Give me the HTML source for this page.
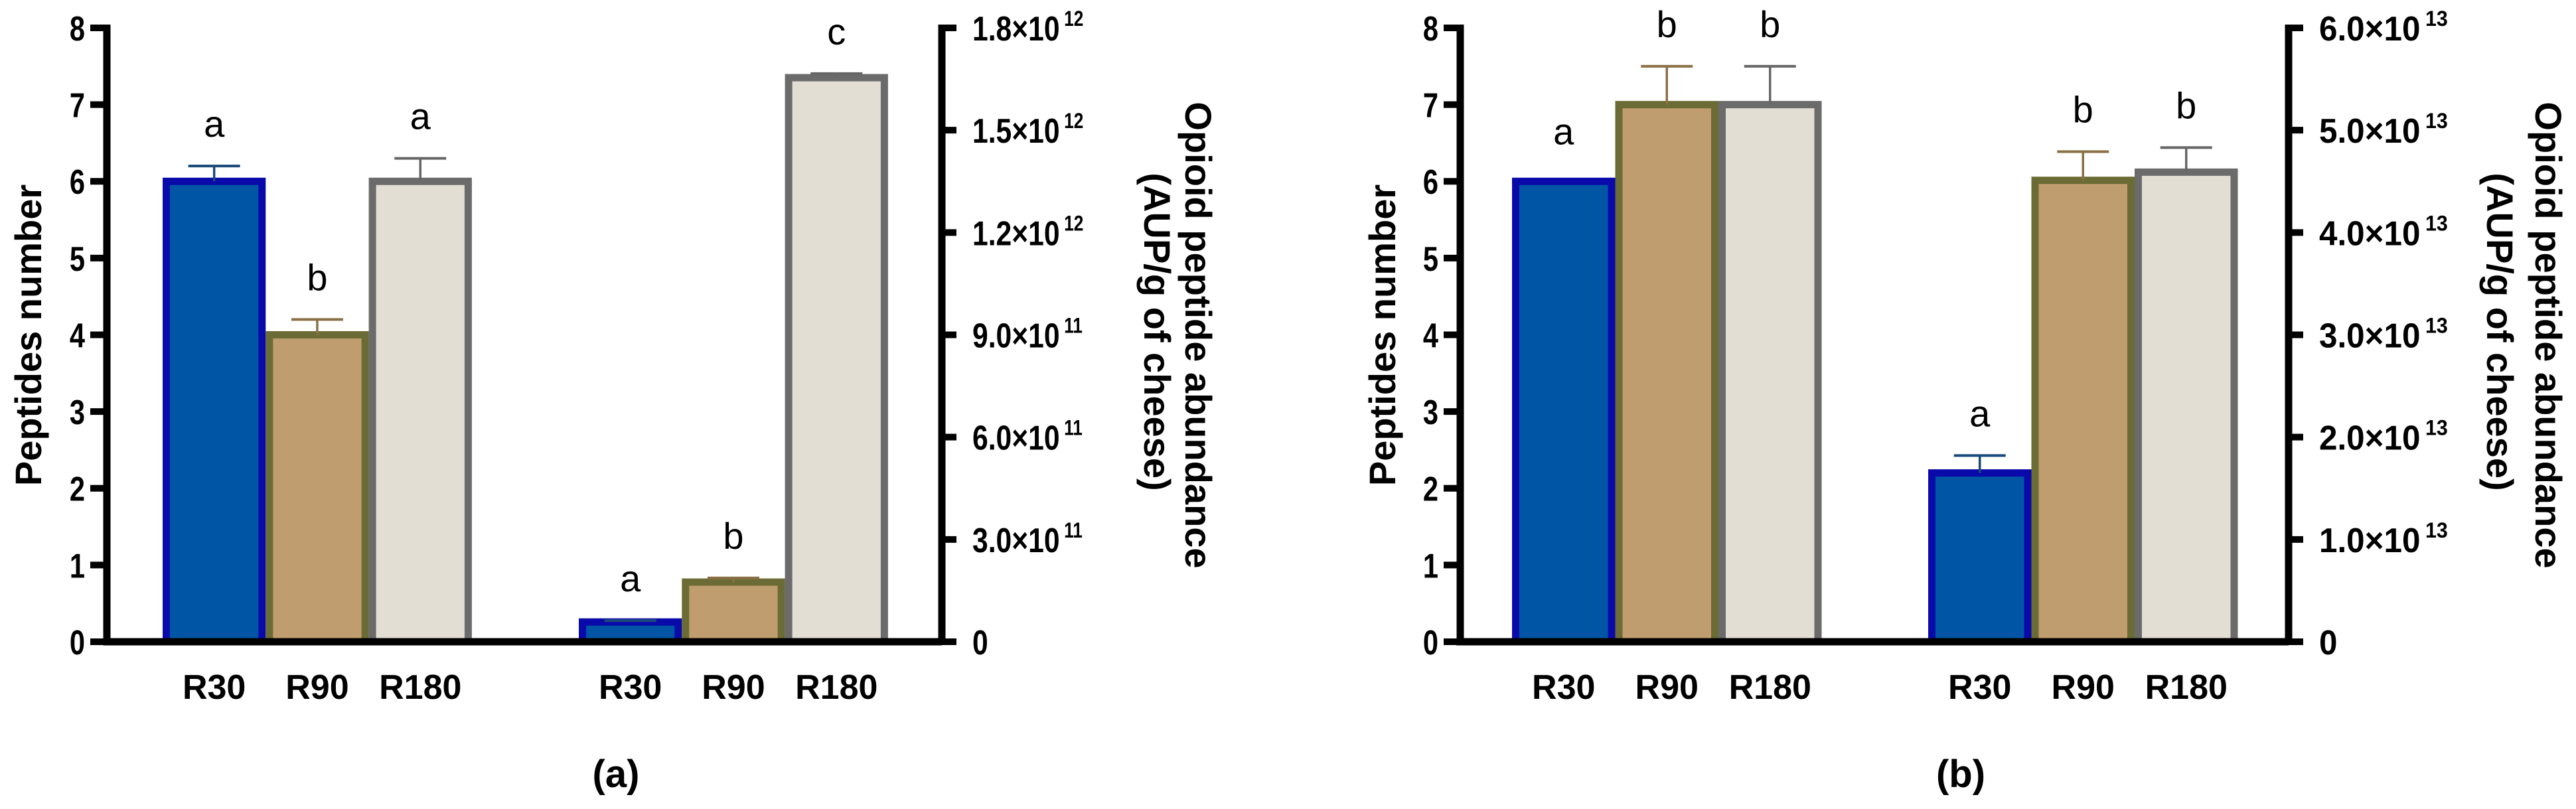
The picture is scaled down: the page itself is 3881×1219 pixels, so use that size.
<!DOCTYPE html>
<html><head><meta charset="utf-8">
<style>
html,body{margin:0;padding:0;background:#fff;}
svg{display:block;font-family:"Liberation Sans",sans-serif;}
</style></head>
<body>
<svg id="chart" width="3881" height="1219" viewBox="0 0 3881 1219" xmlns="http://www.w3.org/2000/svg"></svg>
<script>
// ---- data ----
const categories = ["R30","R90","R180"];
const panelA_count = [6, 4, 6];
const panelA_countErr = [0.2, 0.2, 0.3];
const panelA_countLetters = ["a","b","a"];
const panelA_abund = [0.058e12, 0.175e12, 1.654e12];
const panelA_abundErr = [0.004e12, 0.012e12, 0.012e12];
const panelA_abundLetters = ["a","b","c"];
const panelA_rightTicks = [0, 3e11, 6e11, 9e11, 1.2e12, 1.5e12, 1.8e12];
const panelA_rightTickLabels = ["0","3.0×10|11","6.0×10|11","9.0×10|11","1.2×10|12","1.5×10|12","1.8×10|12"];
const panelB_count = [6, 7, 7];
const panelB_countErr = [0, 0.5, 0.5];
const panelB_countLetters = ["a","b","b"];
const panelB_abund = [1.65e13, 4.51e13, 4.59e13];
const panelB_abundErr = [0.17e13, 0.28e13, 0.24e13];
const panelB_abundLetters = ["a","b","b"];
const panelB_rightTicks = [0, 1e13, 2e13, 3e13, 4e13, 5e13, 6e13];
const panelB_rightTickLabels = ["0","1.0×10|13","2.0×10|13","3.0×10|13","4.0×10|13","5.0×10|13","6.0×10|13"];
const leftTicks = [0,1,2,3,4,5,6,7,8];

const fills = ["#0055A5","#C09D6E","#E3DED3"];
const strokes = ["#0A0AAA","#6B6B35","#6B6B6B"];
const errCols = ["#1A4A7A","#8A7045","#666666"];

const NS = "http://www.w3.org/2000/svg";
const svg = document.getElementById("chart");
function mk(tag, attrs, parent){
  const e = document.createElementNS(NS, tag);
  for (const k in attrs) e.setAttribute(k, attrs[k]);
  (parent||svg).appendChild(e);
  return e;
}

function drawPanel(p){
  const g = mk("g", {});
  
  
  const y0 = 967, yTop = 42;
  const yL = v => y0 - (v/8)*(y0-yTop);
  const yR = v => y0 - (v/p.rightMax)*(y0-yTop);
  const bw = p.barW;
  function bars(vals, errs, letters, scale, startX, tag){
    vals.forEach((v,i)=>{
      const x = startX + i*bw;
      const yv = scale(v);
      const r = mk("rect", {x:x+5.5, y:yv, width:bw-11, height:y0-yv, fill:fills[i], stroke:strokes[i], "stroke-width":11}, g);
      
      
      const cx = x + bw/2;
      let top = yv;
      if (errs[i] > 0){
        const ye = scale(v+errs[i]);
        const e1 = mk("line", {x1:cx, y1:yv, x2:cx, y2:ye, stroke:errCols[i], "stroke-width":3.5}, g);
        
        
        const e2 = mk("line", {x1:cx-39, y1:ye, x2:cx+39, y2:ye, stroke:errCols[i], "stroke-width":4}, g);
        
        
        top = ye;
      } else { top = yv - 12; }
      const t = mk("text", {x:cx, y:top-44, "font-size":56, "text-anchor":"middle", fill:"#000"}, g);
      t.textContent = letters[i];
      
      
      const c = mk("text", {x:cx, y:1053, "font-size":52, "font-weight":"bold", "text-anchor":"middle", fill:"#000"}, g);
      c.textContent = categories[i];
      
      
    });
  }
  bars(p.count, p.countErr, p.countLetters, yL, p.g1, "count");
  bars(p.abund, p.abundErr, p.abundLetters, yR, p.g2, "abund");
  const ax = mk("path", {d:`M${p.ax-5} ${yTop-5} V${y0} H${p.rx}`, fill:"none", stroke:"#000", "stroke-width":11}, g);
  
  
  const rax = mk("line", {x1:p.rx, y1:yTop-5, x2:p.rx, y2:y0+5, stroke:"#000", "stroke-width":11}, g);
  
  
  leftTicks.forEach(v=>{
    const y = yL(v);
    const l = mk("line", {x1:p.ax-30, y1:y, x2:p.ax, y2:y, stroke:"#000", "stroke-width":10}, g);
    
    
    const t = mk("text", {x:p.ax-38, y:y+19, "font-size":52, "font-weight":"bold", "text-anchor":"end", fill:"#000", transform:`translate(${p.ax-38} 0) scale(0.8 1) translate(${-(p.ax-38)} 0)`}, g);
    t.textContent = String(v);
    
    
  });
  p.rightTicks.forEach((v,i)=>{
    const y = yR(v);
    const l = mk("line", {x1:p.rx, y1:y, x2:p.rx+22, y2:y, stroke:"#000", "stroke-width":10}, g);
    
    
    const parts = p.rightTickLabels[i].split("|");
    const lx = p.rx+46;
    const t = mk("text", {x:lx, y:y+19, "font-size":52, "font-weight":"bold", fill:"#000", transform:`translate(${lx} 0) scale(${p.labScale} 1) translate(${-lx} 0)`}, g);
    t.textContent = parts[0];
    if (parts[1]){
      const s = mk("tspan", {dx:8, dy:-22, "font-size":32}, t);
      s.textContent = parts[1];
    }
    
    
  });
  const lt = mk("text", {x:0, y:0, "font-size":56, "font-weight":"bold", "text-anchor":"middle", transform:`translate(${p.ltx} 505) rotate(-90)`}, g);
  lt.textContent = "Peptides number";
  
  
  const r1 = mk("text", {x:0, y:0, "font-size":56, "font-weight":"bold", "text-anchor":"middle", transform:`translate(${p.rt1} 505) rotate(90)`}, g);
  r1.textContent = "Opioid peptide abundance";
  
  
  const r2 = mk("text", {x:0, y:0, "font-size":56, "font-weight":"bold", "text-anchor":"middle", transform:`translate(${p.rt2} 500) rotate(90)`}, g);
  r2.textContent = "(AUP/g of cheese)";
  
  
  const pl = mk("text", {x:p.plx, y:1186, "font-size":58, "font-weight":"bold", "text-anchor":"middle"}, g);
  pl.textContent = p.label;
  
  
}

drawPanel({name:"panel-a", ax:166, rx:1419, g1:245, g2:872, barW:155.3, rightMax:1.8e12,
  count:panelA_count, countErr:panelA_countErr, countLetters:panelA_countLetters,
  abund:panelA_abund, abundErr:panelA_abundErr, abundLetters:panelA_abundLetters,
  rightTicks:panelA_rightTicks, rightTickLabels:panelA_rightTickLabels, labScale:0.82,
  ltx:62, rt1:1786, rt2:1724, plx:928, label:"(a)"});
drawPanel({name:"panel-b", ax:2205, rx:3448, g1:2278, g2:2905, barW:155.5, rightMax:6e13,
  count:panelB_count, countErr:panelB_countErr, countLetters:panelB_countLetters,
  abund:panelB_abund, abundErr:panelB_abundErr, abundLetters:panelB_abundLetters,
  rightTicks:panelB_rightTicks, rightTickLabels:panelB_rightTickLabels, labScale:0.95,
  ltx:2102, rt1:3820, rt2:3747, plx:2954, label:"(b)"});
</script>
</body></html>
